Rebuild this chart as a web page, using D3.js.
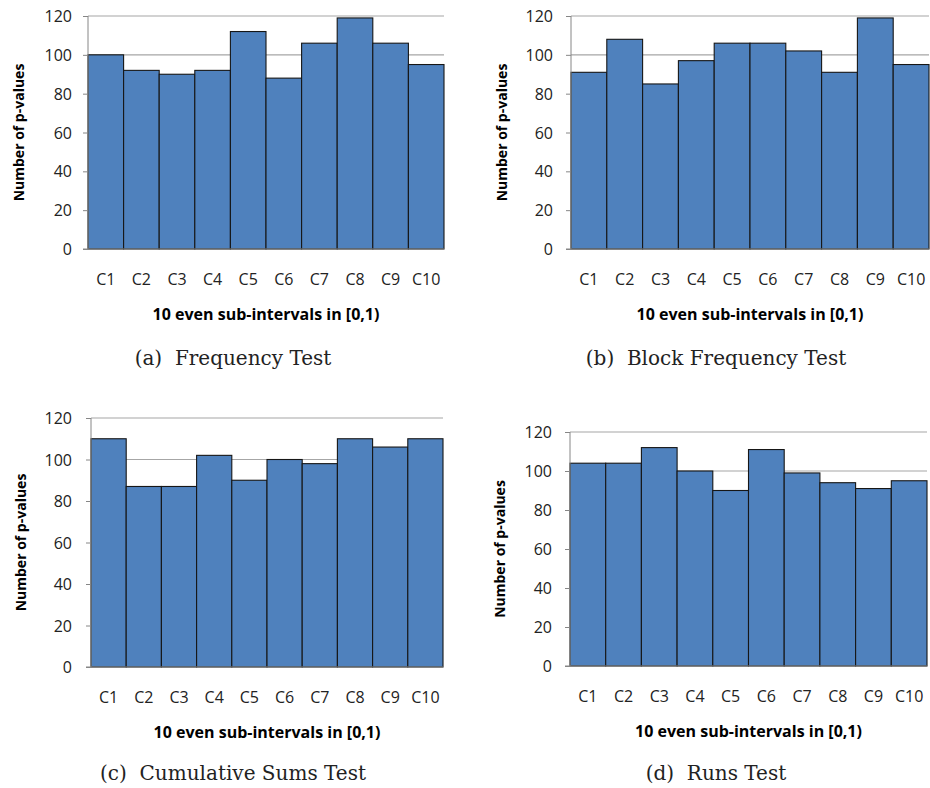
<!DOCTYPE html>
<html>
<head>
<meta charset="utf-8">
<script src="https://cdn.jsdelivr.net/npm/d3@7"></script>
<style>
  body { margin: 0; background: #fff; }
</style>
</head>
<body>
<svg id="chart" width="930" height="788"></svg>
<script>
// bins C1..C10 and the p-value counts per test
var categories = ["C1", "C2", "C3", "C4", "C5", "C6", "C7", "C8", "C9", "C10"];
var frequencyValues = [100, 92, 90, 92, 112, 88, 106, 119, 106, 95];
var blockFrequencyValues = [91, 108, 85, 97, 106, 106, 102, 91, 119, 95];
var cumulativeSumsValues = [110, 87, 87, 102, 90, 100, 98, 110, 106, 110];
var runsValues = [104, 104, 112, 100, 90, 111, 99, 94, 91, 95];
var yTicks = [0, 20, 40, 60, 80, 100, 120];
var captions = ["(a)  Frequency Test", "(b)  Block Frequency Test", "(c)  Cumulative Sums Test", "(d)  Runs Test"];
var xTitle = "10 even sub-intervals in [0,1)";
var yTitle = "Number of p-values";

var panels = [
  {values: frequencyValues, caption: captions[0], left: 88, right: 444, top: 16, bottom: 249,
    yLabelX: 72, yTitleX: 19, xLabelY: 285, xTitleY: 320, captionX: 233, captionY: 365},
  {values: blockFrequencyValues, caption: captions[1], left: 571, right: 929, top: 16, bottom: 249,
    yLabelX: 553, yTitleX: 502, xLabelY: 285, xTitleY: 320, captionX: 716, captionY: 365},
  {values: cumulativeSumsValues, caption: captions[2], left: 91, right: 443, top: 418, bottom: 667,
    yLabelX: 72, yTitleX: 21, xLabelY: 703, xTitleY: 738, captionX: 233, captionY: 780},
  {values: runsValues, caption: captions[3], left: 570, right: 927, top: 432, bottom: 666,
    yLabelX: 552, yTitleX: 500, xLabelY: 702, xTitleY: 737, captionX: 716, captionY: 780}
];

var svg = d3.select("#chart");
var sans = "'Open Sans', 'DejaVu Sans', sans-serif";

panels.forEach(function(p){
  var x = d3.scaleBand().domain(categories).range([p.left, p.right]).padding(0);
  var y = d3.scaleLinear().domain([0, 120]).range([p.bottom, p.top]);
  var g = svg.append("g");

  // gridlines (behind bars)
  g.selectAll(".grid")
    .data(yTicks.slice(1))
    .enter()
    .append("line")
    .attr("x1", p.left).attr("x2", p.right)
    .attr("y1", function(d){ return y(d); })
    .attr("y2", function(d){ return y(d); })
    .attr("stroke", "#a6a6a6")
    .attr("stroke-width", 1.2);

  // bars
  g.selectAll(".bar")
    .data(p.values)
    .enter()
    .append("rect")
    .attr("x", function(d, i){ return x(categories[i]); })
    .attr("y", function(d){ return y(d); })
    .attr("width", x.bandwidth())
    .attr("height", function(d){ return y(0) - y(d); })
    .attr("fill", "#4f81bd")
    .attr("stroke", "#161616")
    .attr("stroke-width", 1.1);

  // y axis
  var yAxis = d3.axisLeft(y).tickValues(yTicks).tickSize(5).tickFormat(d3.format("d"));
  var ya = g.append("g").attr("transform", "translate(" + p.left + ",0)").call(yAxis);
  ya.select(".domain").attr("stroke", "#868686").attr("d", "M0," + y(0) + "V" + y(120));
  ya.selectAll(".tick line").attr("stroke", "#868686");
  ya.selectAll(".tick text")
    .attr("x", p.yLabelX - p.left)
    .attr("dy", "0.35em")
    .attr("fill", "#222")
    .style("font-family", sans)
    .style("font-size", "16px");

  // x axis line + category labels
  g.append("line")
    .attr("x1", p.left - 5).attr("x2", p.right)
    .attr("y1", y(0)).attr("y2", y(0))
    .attr("stroke", "#868686");

  g.selectAll(".xlab")
    .data(categories)
    .enter()
    .append("text")
    .attr("x", function(d){ return x(d) + x.bandwidth() / 2; })
    .attr("y", p.xLabelY)
    .attr("text-anchor", "middle")
    .attr("fill", "#222")
    .style("font-family", sans)
    .style("font-size", "16px")
    .text(function(d){ return d; });

  // axis titles
  g.append("text")
    .attr("x", (p.left + p.right) / 2)
    .attr("y", p.xTitleY)
    .attr("text-anchor", "middle")
    .style("font-family", sans)
    .style("font-weight", "bold")
    .style("font-size", "16px")
    .text(xTitle);

  g.append("text")
    .attr("transform", "translate(" + p.yTitleX + "," + (p.top + p.bottom) / 2 + ") rotate(-90)")
    .attr("text-anchor", "middle")
    .attr("dy", "0.35em")
    .style("font-family", sans)
    .style("font-weight", "bold")
    .style("font-size", "14px")
    .text(yTitle);

  // caption under each panel
  g.append("text")
    .attr("x", p.captionX)
    .attr("y", p.captionY)
    .attr("text-anchor", "middle")
    .attr("fill", "#222")
    .style("font-family", "'DejaVu Serif', serif")
    .style("font-size", "20px")
    .style("white-space", "pre")
    .text(p.caption);
});
</script>
</body>
</html>
